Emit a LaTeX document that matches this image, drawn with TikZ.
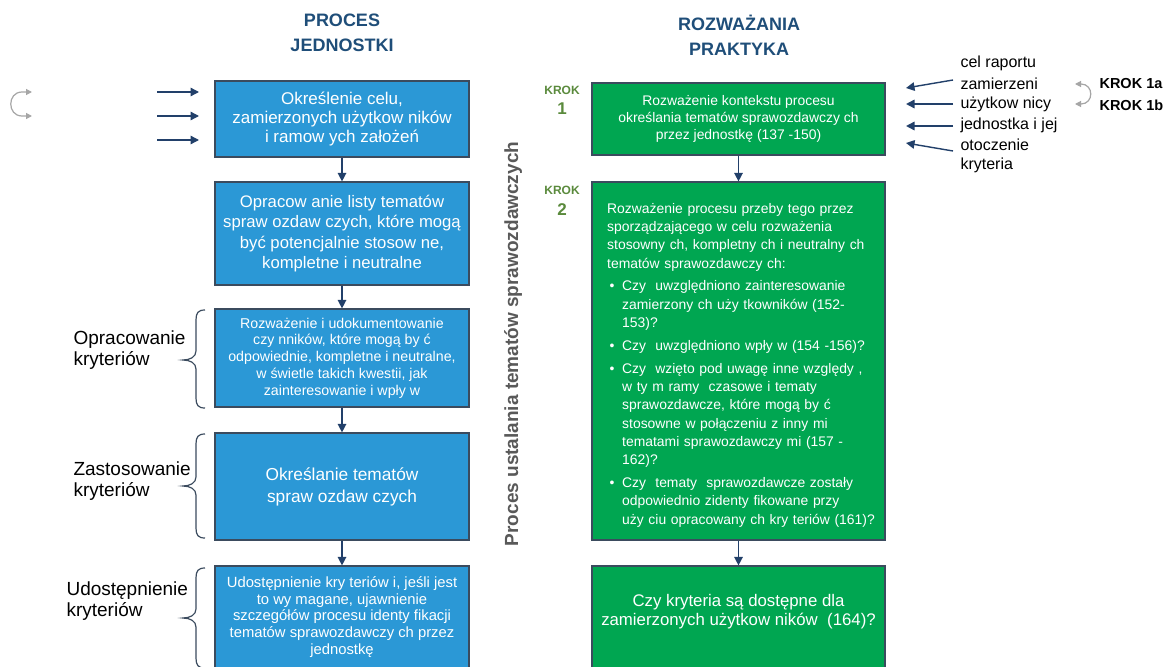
\documentclass[tikz,border=0pt]{standalone}
\usepackage{fontspec}
\setmainfont{Liberation Sans}
\usetikzlibrary{arrows.meta}

\definecolor{boxblue}{HTML}{2B98D6}
\definecolor{boxgreen}{HTML}{00A651}
\definecolor{boxedge}{HTML}{3B4B5E}
\definecolor{navy}{HTML}{22406A}
\definecolor{titleblue}{HTML}{1F4E79}
\definecolor{krokgreen}{HTML}{5A8A3C}
\definecolor{loopgray}{HTML}{A6A6A6}
\definecolor{sidegray}{HTML}{595959}

\tikzset{
  bluebox/.style={draw=boxedge, line width=1.2pt, fill=boxblue, text=white,
    minimum width=254pt, align=center, inner sep=0pt},
  greenbox/.style={draw=boxedge, line width=1.2pt, fill=boxgreen, text=white,
    minimum width=293pt, align=center, inner sep=0pt},
  flow/.style={navy, line width=1.4pt, -{Triangle[length=8.5pt,width=8.5pt]}},
  loop/.style={loopgray, line width=1.2pt, {Triangle[length=6pt,width=6pt]}-{Triangle[length=6pt,width=6pt]}},
  bracket/.style={boxedge, line width=1.2pt},
  title/.style={text=titleblue, font=\fontsize{18}{25}\selectfont\bfseries, align=center},
  sidelabel/.style={anchor=west, align=left, font=\fontsize{19}{21}\selectfont},
  krok/.style={text=krokgreen, align=center},
  input/.style={anchor=west, font=\fontsize{16}{20}\selectfont},
}

% left curly bracket: x of the open ends, top y, tip y, bottom y
\newcommand\leftbracket[4]{%
  \draw[bracket] (#1,#2) .. controls (#1-7,#2) and (#1-9,#2+3) .. (#1-9,#2+10)
    -- (#1-9,#3-9) .. controls (#1-9,#3-3) and (#1-15,#3) .. (#1-22,#3)
    .. controls (#1-15,#3) and (#1-9,#3+3) .. (#1-9,#3+9)
    -- (#1-9,#4-10) .. controls (#1-9,#4-3) and (#1-7,#4) .. (#1,#4);}

\begin{document}
\begin{tikzpicture}[x=1pt, y=-1pt]
\clip (0,0) rectangle (1166,666);
\fill[white] (0,0) rectangle (1166,666);

% column titles
\node[title] (t1) at (342,33) {PROCES\\JEDNOSTKI};
\node[title] (t2) at (739,35) {ROZWAŻANIA\\PRAKTYKA};

% left column: process of the entity
\node[bluebox, minimum height=76pt, font=\fontsize{17}{19}\selectfont] (b1) at (342,119)
  {Określenie celu,\\ zamierzonych użytkow ników\\ i ramow ych założeń};
\node[bluebox, minimum height=103pt, font=\fontsize{16.7}{20.5}\selectfont] (b2) at (342,233.5)
  {Opracow anie listy tematów\\ spraw ozdaw czych, które mogą\\ być potencjalnie stosow ne,\\ kompletne i neutralne};
\node[bluebox, minimum height=98pt, font=\fontsize{14.2}{16.8}\selectfont] (b3) at (342,358)
  {Rozważenie i udokumentowanie\\ czy nników, które mogą by ć\\ odpowiednie, kompletne i neutralne,\\ w świetle takich kwestii, jak\\ zainteresowanie i wpły w};
\node[bluebox, minimum height=107pt, font=\fontsize{17.3}{22}\selectfont] (b4) at (342,486.5)
  {Określanie tematów\\ spraw ozdaw czych};
\node[bluebox, minimum height=102pt, font=\fontsize{14.8}{16.8}\selectfont] (b5) at (342,617)
  {Udostępnienie kry teriów i, jeśli jest\\ to wy magane, ujawnienie\\ szczegółów procesu identy fikacji\\ tematów sprawozdawczy ch przez\\ jednostkę};

\draw[flow] (b1) -- (b2);
\draw[flow] (b2) -- (b3);
\draw[flow] (b3) -- (b4);
\draw[flow] (b4) -- (b5);

% inputs into the first box
\coordinate (in1) at (157,92);
\coordinate (in2) at (157,116);
\coordinate (in3) at (157,140);
\draw[flow] (in1) -- ++(42,0);
\draw[flow] (in2) -- ++(42,0);
\draw[flow] (in3) -- ++(42,0);

% loop arrow on the far left
\coordinate (la) at (32,92);
\coordinate (lb) at (32,116);
\draw[loop] (la) -- (22,92) .. controls (7,92) and (7,116) .. (22,116) -- (lb);

% braces with stage labels
\leftbracket{205}{310}{360}{408}
\leftbracket{205}{434}{486}{538}
\leftbracket{205}{568}{618}{668}
\node[sidelabel] (l1) at (70,350) {Opracowanie\\kryteriów};
\node[sidelabel] (l2) at (70,481) {Zastosowanie\\kryteriów};
\node[sidelabel] (l3) at (63,601) {Udostępnienie\\kryteriów};

% vertical caption between columns
\node[rotate=90, text=sidegray, font=\fontsize{19}{22}\selectfont\bfseries] (vt) at (513,344)
  {Proces ustalania tematów sprawozdawczych};

% right column: practitioner's considerations
\node[greenbox, minimum height=72pt, font=\fontsize{13.9}{17}\selectfont] (g1) at (738.5,119)
  {Rozważenie kontekstu procesu\\ określania tematów sprawozdawczy ch\\ przez jednostkę (137 -150)};
\node[greenbox, minimum height=358pt] (g2) at (738.5,361) {};
\node[greenbox, minimum height=102pt] (g3) at (738.5,617) {};
\node[text=white, align=center, font=\fontsize{16.8}{19}\selectfont] (g3text) at (738.5,612)
  {Czy kryteria są dostępne dla\\ zamierzonych użytkow ników\ \ (164)?};

\node[anchor=north west, text=white, text width=300pt, align=left, inner sep=0pt,
      font=\fontsize{13.9}{18.3}\selectfont] (g2text) at (607,203)
  {\hyphenpenalty=10000\setlength{\parskip}{4.5pt}%
   Rozważenie procesu przeby tego przez\newline sporządzającego w celu rozważenia\newline stosowny ch, kompletny ch i neutralny ch\newline tematów sprawozdawczy ch:\par
   \hangindent=15pt\hangafter=1\makebox[15pt][l]{\,\textbullet}Czy\ \ uwzględniono zainteresowanie\newline zamierzony ch uży tkowników (152-\newline 153)?\par
   \hangindent=15pt\hangafter=1\makebox[15pt][l]{\,\textbullet}Czy\ \ uwzględniono wpły w (154 -156)?\par
   \hangindent=15pt\hangafter=1\makebox[15pt][l]{\,\textbullet}Czy\ \ wzięto pod uwagę inne względy ,\newline w ty m\ ramy\ \ czasowe i tematy\newline sprawozdawcze, które mogą by ć\newline stosowne w połączeniu z inny mi\newline tematami sprawozdawczy mi (157 -\newline 162)?\par
   \hangindent=15pt\hangafter=1\makebox[15pt][l]{\,\textbullet}Czy\ \ tematy\ \ sprawozdawcze zostały\newline odpowiednio zidenty fikowane przy\newline uży ciu opracowany ch kry teriów (161)?\par};

\draw[flow] (g1) -- (g2);
\draw[flow] (g2) -- (g3);

% step markers
\node[krok, font=\fontsize{12}{13}\selectfont\bfseries] (k1a) at (562,90) {KROK};
\node[krok, font=\fontsize{17}{18}\selectfont\bfseries] (k1b) at (562,109) {1};
\node[krok, font=\fontsize{12}{13}\selectfont\bfseries] (k2a) at (562,190) {KROK};
\node[krok, font=\fontsize{17}{18}\selectfont\bfseries] (k2b) at (562,210) {2};

% inputs to step 1
\node[input] (r0) at (957,63) {cel raportu};
\node[input] (r1) at (957,84) {zamierzeni};
\node[input] (r2) at (957,104) {użytkow nicy};
\node[input] (r3) at (957,125) {jednostka i jej};
\node[input] (r4) at (957,145) {otoczenie};
\node[input] (r5) at (957,165) {kryteria};

\coordinate (s1) at (953,80);  \coordinate (e1) at (906,88);
\coordinate (s2) at (953,104); \coordinate (e2) at (906,104);
\coordinate (s3) at (953,126); \coordinate (e3) at (906,126);
\coordinate (s4) at (953,151); \coordinate (e4) at (906,143);
\draw[flow] (s1) -- (e1);
\draw[flow] (s2) -- (e2);
\draw[flow] (s3) -- (e3);
\draw[flow] (s4) -- (e4);

% sub-steps of step 1
\node[anchor=west, font=\fontsize{14.5}{16}\selectfont\bfseries] (ka) at (1096,84) {KROK 1a};
\node[anchor=west, font=\fontsize{14.5}{16}\selectfont\bfseries] (kb) at (1096,105) {KROK 1b};
\coordinate (ra) at (1075,84);
\coordinate (rb) at (1075,104);
\draw[loop] (ra) -- (1081,84) .. controls (1094,84) and (1094,104) .. (1081,104) -- (rb);
\end{tikzpicture}
\end{document}
